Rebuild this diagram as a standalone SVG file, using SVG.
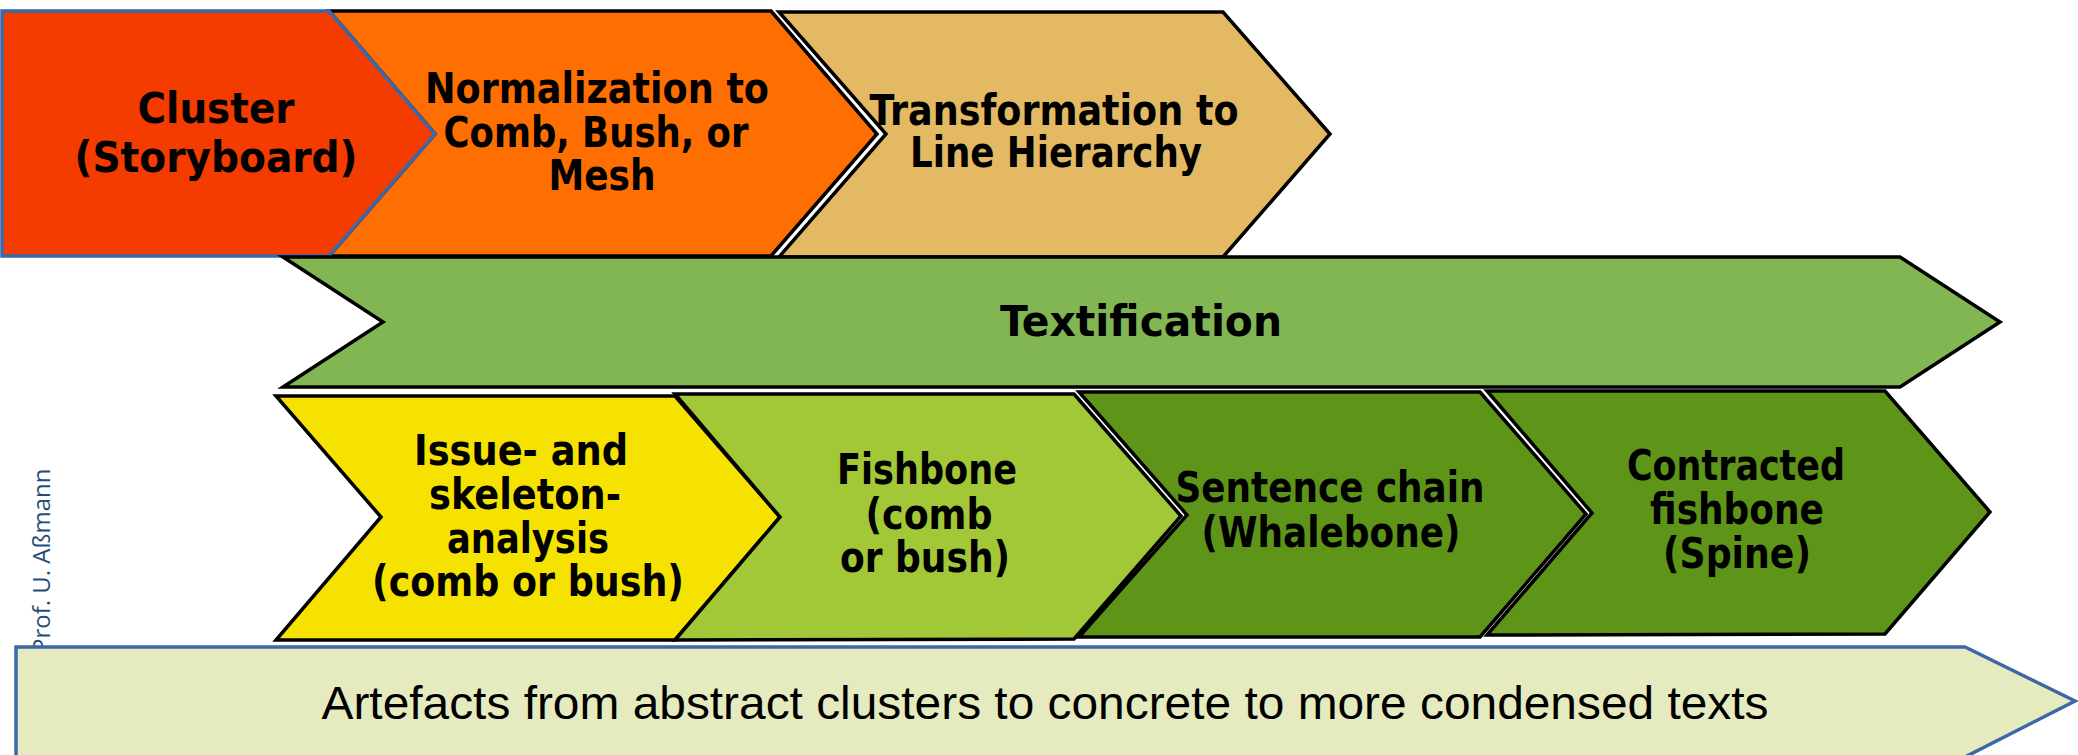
<svg xmlns="http://www.w3.org/2000/svg" width="2078" height="755" viewBox="0 0 2078 755">
<style>
.shape{stroke:#000;stroke-width:3.5;stroke-linejoin:miter}
.lbl{font-family:"DejaVu Sans","Liberation Sans",sans-serif;font-weight:bold;font-stretch:condensed;font-size:42px;fill:#000;text-anchor:middle}
.ban{font-family:"Liberation Sans",Arial,sans-serif;font-size:47px;fill:#000;text-anchor:middle}
.auth{font-family:"Open Sans","Liberation Sans",sans-serif;font-size:24px;fill:#1f4e79}
</style>
<rect width="2078" height="755" fill="#fff"/>
<text class="auth" transform="translate(50,653) rotate(-90)">Prof. U. Aßmann</text>

<g id="normalization">
<polygon class="shape" fill="#FE6E00" points="329,11 771,11 877,134 771,256 329,256 435,134"/>
<text class="lbl" x="597" y="103" textLength="344" lengthAdjust="spacingAndGlyphs">Normalization to</text>
<text class="lbl" x="596" y="147" textLength="305" lengthAdjust="spacingAndGlyphs">Comb, Bush, or</text>
<text class="lbl" x="602" y="190" textLength="107" lengthAdjust="spacingAndGlyphs">Mesh</text>
</g>
<g id="cluster">
<polygon fill="#F43C00" stroke="#3A68A8" stroke-width="3.5" points="2,11 329,11 435,134 329,256 2,256"/>
<text class="lbl" x="216" y="123" textLength="157" lengthAdjust="spacingAndGlyphs">Cluster</text>
<text class="lbl" x="216" y="172" textLength="283" lengthAdjust="spacingAndGlyphs">(Storyboard)</text>
</g>
<g id="transformation">
<polygon class="shape" fill="#E3B964" points="779,12 1223,12 1330,134 1223,257 779,257 886,134"/>
<text class="lbl" x="1054" y="125" textLength="369" lengthAdjust="spacingAndGlyphs">Transformation to</text>
<text class="lbl" x="1056" y="167" textLength="292" lengthAdjust="spacingAndGlyphs">Line Hierarchy</text>
</g>
<g id="textification">
<polygon class="shape" fill="#82B653" points="283,257 1900,257 2000,322 1900,387 283,387 383,322"/>
<text class="lbl" x="1141" y="336" textLength="282" lengthAdjust="spacingAndGlyphs" font-size="46">Textification</text>
</g>
<g id="issue">
<polygon class="shape" fill="#F5E200" points="276,396 675,396 780,517 675,640 276,640 381,517"/>
<text class="lbl" x="521" y="465" textLength="214" lengthAdjust="spacingAndGlyphs">Issue- and</text>
<text class="lbl" x="525" y="509" textLength="192" lengthAdjust="spacingAndGlyphs">skeleton-</text>
<text class="lbl" x="528" y="553" textLength="162" lengthAdjust="spacingAndGlyphs">analysis</text>
<text class="lbl" x="528" y="596" textLength="312" lengthAdjust="spacingAndGlyphs">(comb or bush)</text>
</g>
<g id="fishbone">
<polygon class="shape" fill="#A3C837" points="675,394 1074,394 1181,516 1074,639 675,640 780,517"/>
<text class="lbl" x="927" y="484" textLength="180" lengthAdjust="spacingAndGlyphs">Fishbone</text>
<text class="lbl" x="929" y="529" textLength="127" lengthAdjust="spacingAndGlyphs">(comb</text>
<text class="lbl" x="925" y="572" textLength="170" lengthAdjust="spacingAndGlyphs">or bush)</text>
</g>
<g id="sentence">
<polygon class="shape" fill="#5E9519" points="1079,392 1480,392 1586,514 1480,637 1079,637 1187,515"/>
<text class="lbl" x="1330" y="502" textLength="309" lengthAdjust="spacingAndGlyphs">Sentence chain</text>
<text class="lbl" x="1331" y="547" textLength="259" lengthAdjust="spacingAndGlyphs">(Whalebone)</text>
</g>
<g id="contracted">
<polygon class="shape" fill="#5E9519" points="1487,391 1885,391 1990,512 1885,634 1487,635 1592,513"/>
<text class="lbl" x="1736" y="480" textLength="218" lengthAdjust="spacingAndGlyphs">Contracted</text>
<text class="lbl" x="1737" y="524" textLength="174" lengthAdjust="spacingAndGlyphs">fishbone</text>
<text class="lbl" x="1737" y="568" textLength="148" lengthAdjust="spacingAndGlyphs">(Spine)</text>
</g>
<g id="artefacts">
<polygon fill="#E5EBBF" stroke="#3A68A8" stroke-width="3.5" points="16,647 1965,647 2075,701 1965,757 16,757"/>
<text class="ban" x="1045" y="719" textLength="1447" lengthAdjust="spacingAndGlyphs">Artefacts from abstract clusters to concrete to more condensed texts</text>
</g>
</svg>
